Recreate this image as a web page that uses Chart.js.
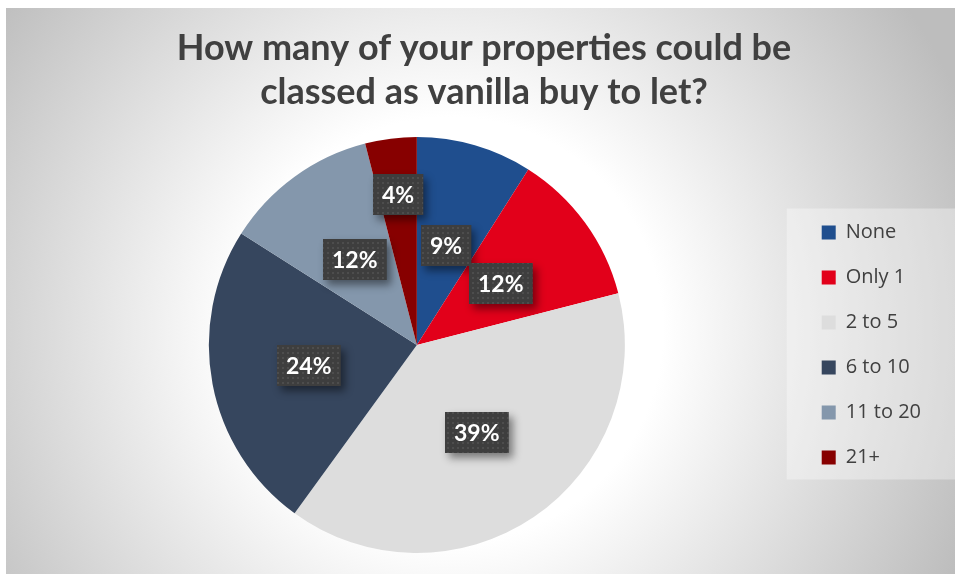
<!DOCTYPE html>
<html>
<head>
<meta charset="utf-8">
<script src="https://cdn.jsdelivr.net/npm/chart.js@4.4.1/dist/chart.umd.min.js"></script>
<style>
  html, body { margin: 0; padding: 0; background: #ffffff; }
  canvas { display: block; }
</style>
</head>
<body>
<canvas id="chart" width="957" height="577"></canvas>
<script>
// Survey answers: share of respondents per number of vanilla buy-to-let properties
const titleLines = ['How many of your properties could be', 'classed as vanilla buy to let?'];
const categories = ['None', 'Only 1', '2 to 5', '6 to 10', '11 to 20', '21+'];
const shares = [9, 12, 39, 24, 12, 4];
const sliceColors = ['#1f4e8e', '#e2001a', '#dddddd', '#36465e', '#8497ac', '#870000'];

// Distance of each value label from the pie centre, as a fraction of the radius
const labelRadius = [0.5, 0.5, 0.51, 0.53, 0.51, 0.73];

// Dotted dark fill used behind the value labels
function makeDotPattern(ctx) {
  const tile = document.createElement('canvas');
  tile.width = 5; tile.height = 5;
  const t = tile.getContext('2d');
  t.fillStyle = '#3e3e3e';
  t.fillRect(0, 0, 5, 5);
  t.fillStyle = '#4d4d4d';
  t.fillRect(2, 2, 2, 2);
  return ctx.createPattern(tile, 'repeat');
}

// Page frame with a radial light-to-grey fill, plus the translucent legend panel
const backdrop = {
  id: 'backdrop',
  beforeDraw(chart) {
    const ctx = chart.ctx;
    const W = chart.width, H = chart.height;
    ctx.save();
    ctx.fillStyle = '#ffffff';
    ctx.fillRect(0, 0, W, H);
    const g = ctx.createRadialGradient(450, 330, 0, 450, 330, 560);
    g.addColorStop(0, '#ffffff');
    g.addColorStop(0.38, '#ffffff');
    g.addColorStop(1, '#bdbdbd');
    ctx.fillStyle = g;
    ctx.fillRect(6, 8, W - 8, H - 11);

    const lg = chart.legend;
    if (lg && lg.legendHitBoxes && lg.legendHitBoxes.length) {
      const hb = lg.legendHitBoxes;
      const top = hb[0].top - 14;
      const last = hb[hb.length - 1];
      const bottom = last.top + last.height + 12;
      const left = lg.left - 10;
      ctx.fillStyle = 'rgba(255,255,255,0.35)';
      ctx.fillRect(left, top, W - 2 - left, bottom - top);
    }
    ctx.restore();
  }
};

// Percentage labels in dark boxes with a drop shadow, placed along each slice's mid-angle
const valueLabels = {
  id: 'valueLabels',
  afterDatasetsDraw(chart) {
    const ctx = chart.ctx;
    const meta = chart.getDatasetMeta(0);
    const pattern = makeDotPattern(ctx);
    ctx.save();
    ctx.font = 'bold 23px Lato, "Open Sans", sans-serif';
    ctx.textAlign = 'center';
    ctx.textBaseline = 'middle';
    meta.data.forEach((arc, i) => {
      const p = arc.getProps(['x', 'y', 'startAngle', 'endAngle', 'outerRadius'], true);
      const mid = (p.startAngle + p.endAngle) / 2;
      const r = p.outerRadius * labelRadius[i];
      const cx = p.x + Math.cos(mid) * r;
      const cy = p.y + Math.sin(mid) * r;
      const text = shares[i] + '%';
      const w = ctx.measureText(text).width + 18;
      const h = 41;
      const bx = Math.round(cx - w / 2), by = Math.round(cy - h / 2);

      ctx.shadowColor = 'rgba(0,0,0,0.45)';
      ctx.shadowBlur = 8;
      ctx.shadowOffsetX = 4;
      ctx.shadowOffsetY = 5;
      ctx.fillStyle = '#3e3e3e';
      ctx.fillRect(bx, by, w, h);
      ctx.shadowColor = 'transparent';
      ctx.shadowBlur = 0;
      ctx.shadowOffsetX = 0;
      ctx.shadowOffsetY = 0;
      ctx.fillStyle = pattern;
      ctx.fillRect(bx, by, w, h);

      ctx.fillStyle = '#ffffff';
      ctx.fillText(text, bx + w / 2, by + h / 2 + 1);
    });
    ctx.restore();
  }
};

new Chart(document.getElementById('chart'), {
  type: 'pie',
  data: {
    labels: categories,
    datasets: [{
      data: shares,
      backgroundColor: sliceColors,
      borderWidth: 0,
      hoverOffset: 0
    }]
  },
  options: {
    responsive: false,
    animation: false,
    devicePixelRatio: 1,
    layout: { padding: { left: 37, right: 26, top: 8, bottom: 24 } },
    plugins: {
      title: {
        display: true,
        text: titleLines,
        color: '#404040',
        font: { family: 'Lato, "Open Sans", sans-serif', size: 36, weight: 'bold', lineHeight: 44 / 36 },
        padding: { top: 18, bottom: 23 }
      },
      legend: {
        display: true,
        position: 'right',
        align: 'center',
        fullSize: false,
        labels: {
          boxWidth: 14,
          boxHeight: 14,
          padding: 25,
          color: '#404040',
          font: { family: '"Open Sans", Lato, sans-serif', size: 20 }
        }
      },
      tooltip: { enabled: false }
    }
  },
  plugins: [backdrop, valueLabels]
});
</script>
</body>
</html>
